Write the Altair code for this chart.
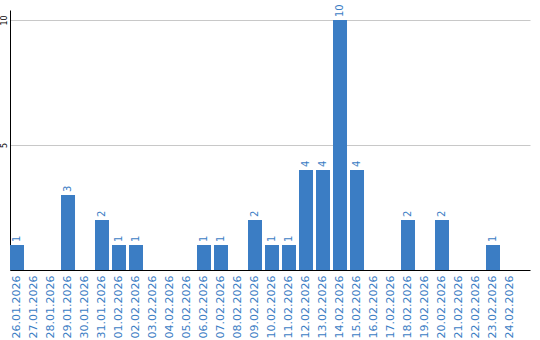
import altair as alt
import pandas as pd

dates = ["26.01.2026", "27.01.2026", "28.01.2026", "29.01.2026", "30.01.2026",
         "31.01.2026", "01.02.2026", "02.02.2026", "03.02.2026", "04.02.2026",
         "05.02.2026", "06.02.2026", "07.02.2026", "08.02.2026", "09.02.2026",
         "10.02.2026", "11.02.2026", "12.02.2026", "13.02.2026", "14.02.2026",
         "15.02.2026", "16.02.2026", "17.02.2026", "18.02.2026", "19.02.2026",
         "20.02.2026", "21.02.2026", "22.02.2026", "23.02.2026", "24.02.2026"]
counts = [1, 0, 0, 3, 0, 2, 1, 1, 0, 0, 0, 1, 1, 0, 2, 1, 1, 4, 4, 10, 4, 0, 0, 2, 0, 2, 0, 0, 1, 0]
y_ticks = [5, 10]

df = pd.DataFrame({"date": dates, "count": counts})
BLUE = "#3b7dc4"

x = alt.X("date:N", sort=dates, title=None,
          scale=alt.Scale(paddingInner=0.176, paddingOuter=0.382, align=0),
          axis=alt.Axis(labelAngle=270, labelColor=BLUE, labelFont="DejaVu Sans",
                        labelFontSize=11, ticks=False, domainColor="black",
                        labelPadding=5, grid=False))
y = alt.Y("count:Q", title=None,
          scale=alt.Scale(domain=[0, 10.4], nice=False),
          axis=alt.Axis(values=y_ticks, labelAngle=270, labelFont="DejaVu Sans",
                        labelFontSize=8, labelColor="black", ticks=False,
                        domainColor="black", gridColor="#c8c8c8", labelPadding=2,
                        labelAlign="center", labelBaseline="bottom"))

bars = alt.Chart(df).mark_bar(color=BLUE).encode(x=x, y=y)
labels = alt.Chart(df).transform_filter("datum.count > 0").mark_text(
    angle=270, align="left", baseline="middle", dx=3, color=BLUE,
    font="DejaVu Sans", fontSize=10
).encode(x=alt.X("date:N", sort=dates), y="count:Q", text="count:Q")

chart = alt.layer(bars, labels).properties(
    width=520, height=260,
    padding={"left": 10, "top": 10, "right": 10, "bottom": 70},
    autosize=alt.AutoSizeParams(type="none"),
    background="white",
).configure_view(stroke=None)

chart.save("out.html", embed_options={"renderer": "svg", "actions": False})
